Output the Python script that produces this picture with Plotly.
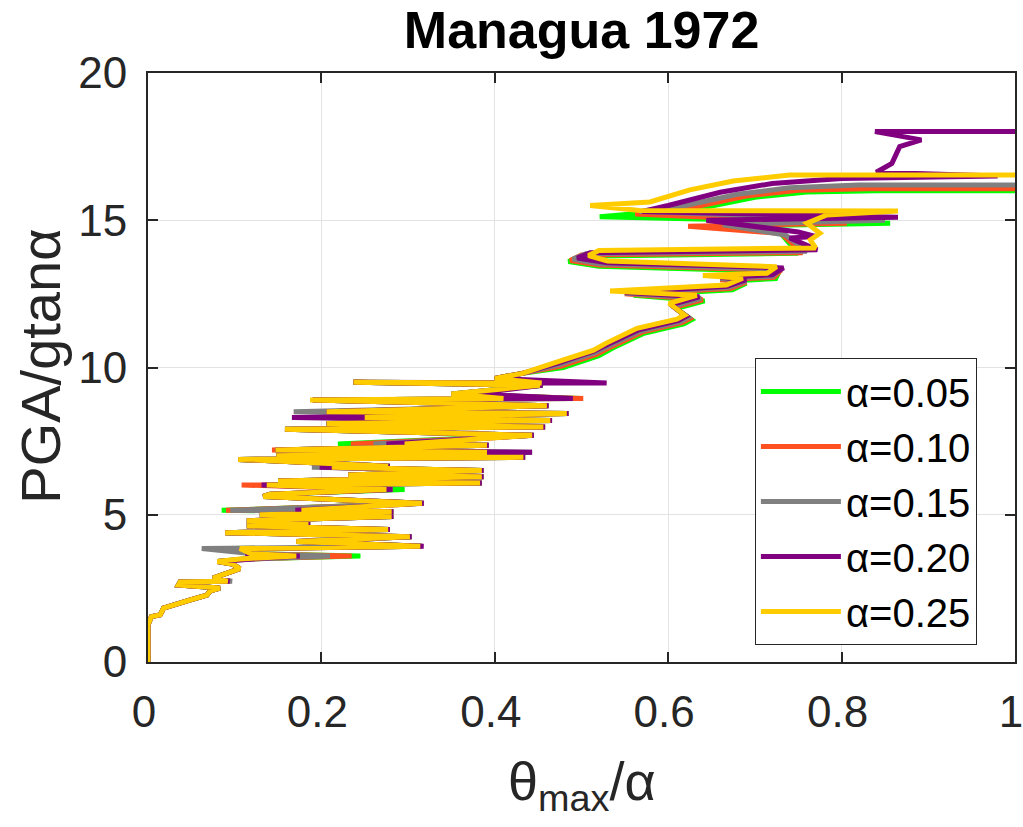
import plotly.graph_objects as go

# ---------------- data ----------------
ALPHA_LABELS = ["α=0.05", "α=0.10", "α=0.15", "α=0.20", "α=0.25"]
COLORS = ["#00FF00", "#FF5020", "#808080", "#800080", "#FFCC00"]

# lower branch (shared PGA levels)
Y_LOW = [0.00, 1.26, 1.54, 1.60, 1.83, 2.00, 2.10, 2.27, 2.42, 2.51,
         2.61, 2.72, 2.74, 2.85, 3.17, 3.33, 3.41, 3.50, 3.60, 3.68,
         3.85, 3.93, 4.09, 4.25, 4.39, 4.50, 4.62, 4.72, 4.80, 4.94,
         5.00, 5.10, 5.15, 5.39, 5.62, 5.70, 5.86, 6.01, 6.08, 6.15,
         6.29, 6.35, 6.50, 6.61, 6.65, 6.88, 6.95, 7.00, 7.12, 7.20,
         7.36, 7.40, 7.70, 7.90, 7.98, 8.10, 8.20, 8.30, 8.44, 8.50,
         8.70, 8.90, 8.95, 9.10, 9.40, 9.50, 9.47, 9.63, 9.80]

X_LOW_005 = [0.000, 0.000, 0.004, 0.014, 0.018, 0.040, 0.048, 0.068, 0.072, 0.083,
             0.035, 0.037, 0.094, 0.075, 0.106, 0.097, 0.080, 0.110, 0.245, 0.118,
             0.100, 0.316, 0.171, 0.304, 0.089, 0.279, 0.114, 0.187, 0.114, 0.283,
             0.129, 0.283, 0.085, 0.318, 0.133, 0.141, 0.296, 0.137, 0.385, 0.150,
             0.387, 0.231, 0.387, 0.205, 0.279, 0.104, 0.435, 0.148, 0.395, 0.147,
             0.393, 0.219, 0.445, 0.158, 0.458, 0.206, 0.466, 0.250, 0.485, 0.206,
             0.462, 0.190, 0.500, 0.350, 0.455, 0.237, 0.456, 0.400, 0.432]
X_LOW_010 = [0.000, 0.000, 0.004, 0.014, 0.018, 0.040, 0.048, 0.068, 0.072, 0.083,
             0.035, 0.037, 0.094, 0.075, 0.106, 0.097, 0.080, 0.112, 0.235, 0.118,
             0.100, 0.316, 0.171, 0.304, 0.089, 0.279, 0.114, 0.187, 0.114, 0.283,
             0.129, 0.283, 0.090, 0.318, 0.133, 0.141, 0.282, 0.108, 0.385, 0.150,
             0.387, 0.231, 0.387, 0.200, 0.279, 0.104, 0.435, 0.148, 0.395, 0.143,
             0.393, 0.234, 0.445, 0.158, 0.458, 0.206, 0.466, 0.250, 0.485, 0.206,
             0.462, 0.190, 0.502, 0.350, 0.455, 0.237, 0.456, 0.400, 0.432]
X_LOW_015 = [0.000, 0.000, 0.004, 0.014, 0.018, 0.040, 0.048, 0.068, 0.072, 0.083,
             0.035, 0.037, 0.097, 0.075, 0.106, 0.097, 0.080, 0.121, 0.210, 0.118,
             0.062, 0.316, 0.171, 0.304, 0.089, 0.279, 0.114, 0.187, 0.114, 0.283,
             0.129, 0.283, 0.095, 0.318, 0.133, 0.141, 0.282, 0.135, 0.385, 0.150,
             0.387, 0.231, 0.387, 0.189, 0.279, 0.104, 0.435, 0.148, 0.443, 0.147,
             0.393, 0.260, 0.445, 0.158, 0.458, 0.206, 0.466, 0.175, 0.485, 0.168,
             0.462, 0.190, 0.490, 0.350, 0.455, 0.237, 0.456, 0.400, 0.432]
X_LOW_020 = [0.000, 0.000, 0.004, 0.014, 0.018, 0.040, 0.048, 0.068, 0.072, 0.083,
             0.035, 0.037, 0.094, 0.075, 0.106, 0.097, 0.080, 0.121, 0.175, 0.115,
             0.115, 0.318, 0.171, 0.304, 0.089, 0.279, 0.114, 0.187, 0.114, 0.283,
             0.129, 0.283, 0.170, 0.318, 0.133, 0.141, 0.282, 0.131, 0.385, 0.150,
             0.387, 0.231, 0.387, 0.198, 0.279, 0.104, 0.435, 0.148, 0.443, 0.147,
             0.393, 0.275, 0.445, 0.158, 0.458, 0.206, 0.466, 0.166, 0.485, 0.206,
             0.462, 0.190, 0.490, 0.375, 0.455, 0.237, 0.529, 0.400, 0.432]
X_LOW_025 = [0.000, 0.000, 0.004, 0.014, 0.018, 0.040, 0.048, 0.068, 0.072, 0.083,
             0.035, 0.037, 0.092, 0.075, 0.106, 0.097, 0.080, 0.106, 0.171, 0.118,
             0.106, 0.314, 0.171, 0.302, 0.089, 0.277, 0.114, 0.185, 0.114, 0.281,
             0.129, 0.281, 0.177, 0.316, 0.133, 0.141, 0.275, 0.137, 0.383, 0.150,
             0.385, 0.231, 0.385, 0.212, 0.277, 0.104, 0.433, 0.148, 0.391, 0.147,
             0.391, 0.296, 0.443, 0.158, 0.456, 0.206, 0.464, 0.250, 0.483, 0.206,
             0.460, 0.187, 0.410, 0.350, 0.452, 0.237, 0.454, 0.400, 0.432]

# upper branch (per series)
X_UP_005 = [0.479, 0.520, 0.536, 0.572, 0.618, 0.627, 0.609, 0.642, 0.560, 0.674,
            0.690, 0.670, 0.724, 0.728, 0.520, 0.485, 0.500, 0.750, 0.730, 0.700,
            0.856, 0.521, 0.640, 0.700, 0.760, 0.840, 1.000]
Y_UP_005 = [10.00, 10.40, 10.66, 11.16, 11.48, 11.62, 12.00, 12.26, 12.45, 12.64,
            12.86, 12.94, 13.02, 13.26, 13.44, 13.60, 13.78, 13.88, 14.55, 14.82,
            14.90, 15.12, 15.42, 15.78, 15.96, 16.00, 16.00]
X_UP_010 = [0.477, 0.518, 0.534, 0.570, 0.616, 0.625, 0.607, 0.640, 0.550, 0.672,
            0.690, 0.660, 0.722, 0.730, 0.520, 0.487, 0.500, 0.755, 0.730, 0.623,
            0.806, 0.562, 0.630, 0.690, 0.750, 0.830, 1.000]
Y_UP_010 = [10.05, 10.45, 10.70, 11.20, 11.52, 11.66, 12.04, 12.30, 12.50, 12.68,
            12.90, 12.98, 13.06, 13.30, 13.48, 13.63, 13.82, 13.90, 14.55, 14.80,
            14.90, 15.21, 15.45, 15.82, 16.02, 16.07, 16.07]
X_UP_015 = [0.475, 0.516, 0.532, 0.568, 0.614, 0.623, 0.605, 0.638, 0.550, 0.670,
            0.690, 0.660, 0.720, 0.730, 0.520, 0.490, 0.505, 0.760, 0.735, 0.663,
            0.850, 0.567, 0.620, 0.680, 0.740, 0.820, 1.000]
Y_UP_015 = [10.10, 10.50, 10.74, 11.24, 11.56, 11.70, 12.08, 12.35, 12.52, 12.72,
            12.94, 13.02, 13.10, 13.34, 13.52, 13.68, 13.86, 13.95, 14.50, 14.85,
            15.00, 15.30, 15.50, 15.88, 16.10, 16.20, 16.20]
X_UP_020 = [0.473, 0.514, 0.530, 0.566, 0.612, 0.621, 0.603, 0.636, 0.550, 0.668,
            0.690, 0.660, 0.720, 0.733, 0.530, 0.495, 0.510, 0.772, 0.740, 0.770,
            0.750, 0.644, 0.865, 0.570, 0.600, 0.660, 0.720, 0.800, 0.980, 0.840,
            0.858, 0.867, 0.892, 0.8385, 1.000]
Y_UP_020 = [10.15, 10.55, 10.78, 11.28, 11.60, 11.74, 12.13, 12.40, 12.55, 12.76,
            12.98, 13.06, 13.15, 13.38, 13.56, 13.72, 13.90, 14.00, 14.40, 14.45,
            14.60, 15.00, 15.10, 15.30, 15.50, 15.95, 16.25, 16.42, 16.50, 16.63,
            16.93, 17.50, 17.73, 18.01, 18.01]
X_UP_025 = [0.473, 0.514, 0.528, 0.564, 0.610, 0.619, 0.601, 0.633, 0.533, 0.667,
            0.686, 0.640, 0.714, 0.725, 0.530, 0.508, 0.520, 0.770, 0.764, 0.775,
            0.760, 0.783, 0.865, 0.567, 0.510, 0.579, 0.625, 0.675, 0.740, 1.000]
Y_UP_025 = [10.20, 10.59, 10.82, 11.33, 11.64, 11.78, 12.18, 12.45, 12.60, 12.80,
            13.03, 13.12, 13.20, 13.42, 13.62, 13.80, 13.97, 14.06, 14.33, 14.56,
            14.90, 15.18, 15.31, 15.33, 15.50, 15.62, 16.03, 16.33, 16.54, 16.54]

X_SERIES = [X_LOW_005 + X_UP_005, X_LOW_010 + X_UP_010, X_LOW_015 + X_UP_015,
            X_LOW_020 + X_UP_020, X_LOW_025 + X_UP_025]
Y_SERIES = [Y_LOW + Y_UP_005, Y_LOW + Y_UP_010, Y_LOW + Y_UP_015,
            Y_LOW + Y_UP_020, Y_LOW + Y_UP_025]

X_TICKS = [0, 0.2, 0.4, 0.6, 0.8, 1]
X_TICKTEXT = ["0", "0.2", "0.4", "0.6", "0.8", "1"]
Y_TICKS = [0, 5, 10, 15, 20]
Y_TICKTEXT = ["0", "5", "10", "15", "20"]

# ---------------- figure ----------------
FONT = "Liberation Sans, Arial, Helvetica, sans-serif"
AXCOL = "#262626"

fig = go.Figure()
for xs, ys, name, col in zip(X_SERIES, Y_SERIES, ALPHA_LABELS, COLORS):
    fig.add_trace(go.Scatter(x=xs, y=ys, mode="lines", name=name,
                             line=dict(color=col, width=5, shape="linear")))

axis_common = dict(showline=True, linecolor=AXCOL, linewidth=2, mirror="ticks",
                   ticks="inside", ticklen=10, tickwidth=2, tickcolor=AXCOL,
                   showgrid=True, gridcolor="#E3E3E3", gridwidth=1,
                   zeroline=False, ticklabeloverflow="allow",
                   tickfont=dict(family=FONT, size=44, color=AXCOL))

fig.update_layout(
    width=1023, height=827,
    margin=dict(l=148, r=8, t=73, b=165, autoexpand=False),
    paper_bgcolor="white", plot_bgcolor="white",
    title=dict(text="<b>Managua 1972</b>", x=0.5685, xanchor="center",
               y=0.986, yanchor="top", yref="container",
               font=dict(family=FONT, size=52, color="black")),
    xaxis=dict(range=[0, 1], tickvals=X_TICKS, ticktext=X_TICKTEXT,
               ticklabelstandoff=10, ticklabelshift=-4, **axis_common),
    yaxis=dict(range=[0, 20], tickvals=Y_TICKS, ticktext=Y_TICKTEXT,
               ticklabelstandoff=10, **axis_common),
    legend=dict(x=0.700, y=0.516, xanchor="left", yanchor="top",
                bgcolor="white", bordercolor=AXCOL, borderwidth=1,
                font=dict(family=FONT, size=40, color="black"),
                tracegroupgap=0, itemwidth=80),
    showlegend=True,
)

fig.add_annotation(text="PGA/gtanα", xref="paper", yref="paper",
                   x=-0.125, y=0.5025, xanchor="center", yanchor="middle",
                   textangle=-90, showarrow=False,
                   font=dict(family=FONT, size=56, color=AXCOL))
fig.add_annotation(text="θ<sub>max</sub>/α", xref="paper", yref="paper",
                   x=0.5, y=-0.148, xanchor="center", yanchor="top",
                   showarrow=False,
                   font=dict(family=FONT, size=54, color=AXCOL))

fig.write_html("out.html")
